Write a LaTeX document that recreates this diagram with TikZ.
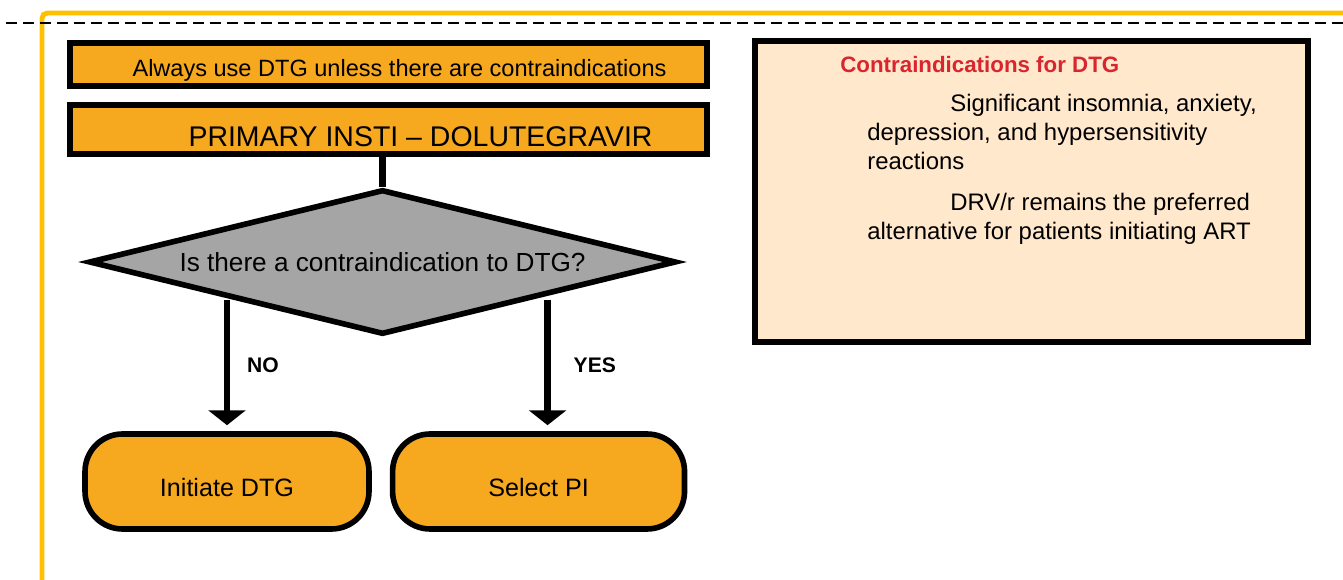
\documentclass[tikz,border=0pt]{standalone}
\usepackage{fontspec}
\setmainfont{Liberation Sans}
\usetikzlibrary{arrows.meta,shapes.geometric,positioning}

\definecolor{boxorange}{HTML}{F6A81E}
\definecolor{diagray}{HTML}{A5A5A5}
\definecolor{framegold}{HTML}{FFC000}
\definecolor{notepeach}{HTML}{FFE8CC}
\definecolor{notered}{HTML}{D9262E}

\begin{document}
\begin{tikzpicture}[x=0.02cm,y=-0.02cm,
  bar/.style={draw,line width=3.2pt,fill=boxorange,minimum width=12.74cm,inner sep=0pt,text depth=0pt},
  decision/.style={diamond,aspect=4.25,draw,line width=3.2pt,fill=diagray,minimum width=11.75cm,
    minimum height=2.9cm,inner sep=0pt,font=\fontsize{14.9}{17}\selectfont},
  outcome/.style={draw,line width=3.2pt,fill=boxorange,rounded corners=0.75cm,
    minimum height=1.9cm,text height=17.2pt,text depth=0pt,font=\fontsize{14.3}{17}\selectfont},
  flow/.style={line width=3.6pt,-{Triangle[width=21pt,length=8.5pt]},shorten >=0.12cm},
  lbl/.style={font=\bfseries\fontsize{12}{14}\selectfont,inner sep=0pt}]

  \useasboundingbox (0,0) rectangle (1343,580);

  % frame
  \draw[framegold,line width=2.8pt,rounded corners=3pt] (42,600) -- (42,13) -- (1360,13);
  \draw[line width=1.1pt,dash pattern=on 0.22cm off 0.12cm] (6,23) -- (1360,23);

  \node[bar,minimum height=0.86cm,text height=13.8pt,font=\fontsize{13.4}{16}\selectfont] (always)
    at (388.5,64.5) {\hspace*{0.44cm}Always use DTG unless there are contraindications};
  \node[bar,minimum height=0.98cm,text height=19pt,font=\fontsize{16.2}{19}\selectfont] (insti)
    at (388.5,129.5) {\hspace*{1.28cm}PRIMARY INSTI – DOLUTEGRAVIR};
  \node[decision] (dtg) at (382.5,262) {Is there a contraindication to DTG?};

  \node[outcome,minimum width=5.68cm] (init) at (227,481.5) {Initiate DTG};
  \node[outcome,minimum width=5.84cm] (pi) [right=0.36cm of init] {Select PI};
  \coordinate (yesfoot) at ([xshift=0.18cm]pi.north);

  \draw[line width=3.6pt] (insti.south -| dtg.north) -- (dtg.north);
  \draw[flow] (dtg.south west -| init.north) -- (init.north)
    node[lbl,midway,right=0.34cm] (no) {NO};
  \draw[flow] (yesfoot |- dtg.south east) -- (yesfoot)
    node[lbl,midway,right=0.46cm] (yes) {YES};

  % side note
  \node[draw,line width=3pt,fill=notepeach,minimum width=11.06cm,minimum height=6.02cm] (note)
    at (1031.5,191.5) {};
  \node[anchor=base west,inner sep=0pt,text=notered,font=\bfseries\fontsize{12.7}{15}\selectfont]
    (notetitle) at (840,73) {Contraindications for DTG};
  \node[anchor=north west,inner sep=0pt,align=left,font=\fontsize{13.6}{16.4}\selectfont]
    (notebody) at (867,94)
    {\hspace*{1.66cm}Significant insomnia, anxiety,\\
     depression, and hypersensitivity\\
     reactions\\[7pt]
     \hspace*{1.66cm}DRV/r remains the preferred\\
     alternative for patients initiating ART};
\end{tikzpicture}
\end{document}
